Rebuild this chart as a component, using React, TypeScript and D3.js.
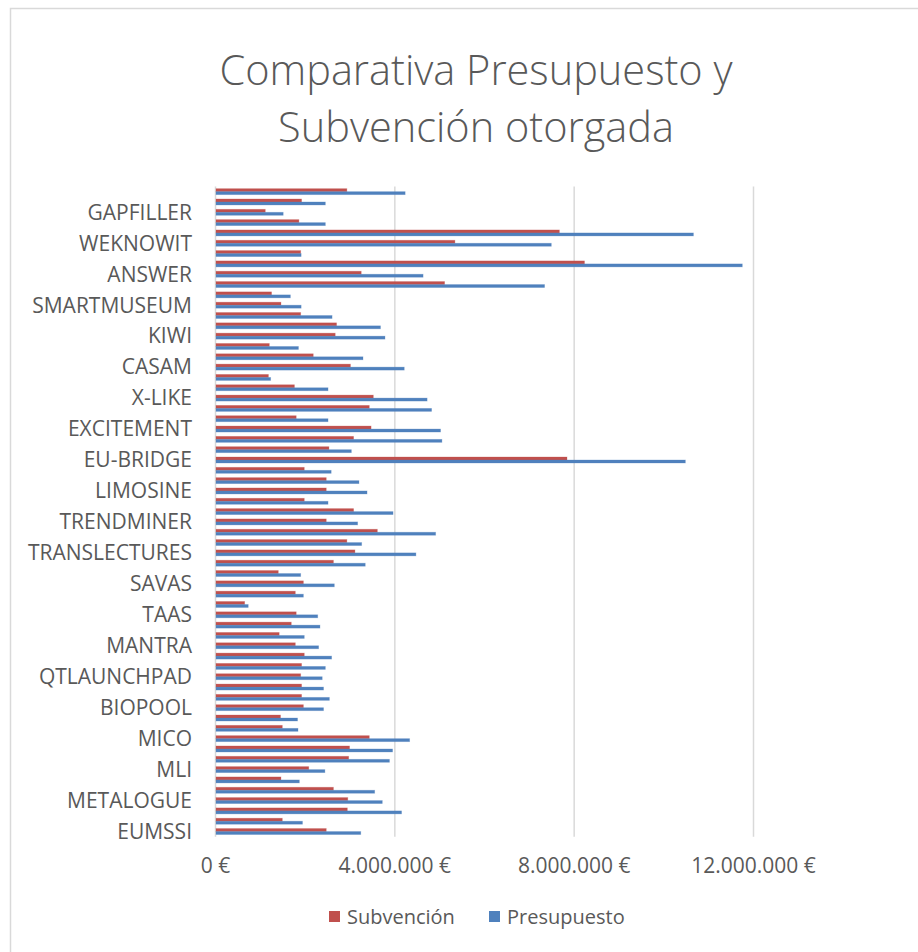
import { useEffect, useRef } from "react";
import * as d3 from "d3";

// Categories listed bottom -> top (Excel order). Only every third name is shown on the axis.
const projects = [
  "EUMSSI", "", "", "METALOGUE", "", "", "MLI", "", "", "MICO", "", "",
  "BIOPOOL", "", "", "QTLAUNCHPAD", "", "", "MANTRA", "", "", "TAAS", "", "",
  "SAVAS", "", "", "TRANSLECTURES", "", "", "TRENDMINER", "", "", "LIMOSINE", "", "",
  "EU-BRIDGE", "", "", "EXCITEMENT", "", "", "X-LIKE", "", "", "CASAM", "", "",
  "KIWI", "", "", "SMARTMUSEUM", "", "", "ANSWER", "", "", "WEKNOWIT", "", "",
  "GAPFILLER", "", "",
];

const subvencion = [
  2470000, 1490000, 2940000, 2950000, 2630000, 1460000, 2080000, 2970000, 2990000, 3430000,
  1490000, 1450000, 1960000, 1920000, 1920000, 1900000, 1920000, 1980000, 1780000, 1420000,
  1690000, 1800000, 650000, 1780000, 1960000, 1400000, 2630000, 3110000, 2930000, 3610000,
  2470000, 3080000, 1980000, 2470000, 2470000, 1980000, 7840000, 2530000, 3080000, 3470000,
  1800000, 3430000, 3520000, 1760000, 1180000, 3010000, 2180000, 1200000, 2670000, 2700000,
  1900000, 1460000, 1250000, 5110000, 3250000, 8230000, 1900000, 5340000, 7670000, 1860000,
  1110000, 1920000, 2930000,
];

const presupuesto = [
  3240000, 1940000, 4150000, 3720000, 3550000, 1870000, 2440000, 3880000, 3950000, 4330000,
  1840000, 1830000, 2410000, 2540000, 2410000, 2380000, 2450000, 2590000, 2300000, 1980000,
  2330000, 2280000, 730000, 1960000, 2650000, 1900000, 3340000, 4470000, 3260000, 4910000,
  3170000, 3960000, 2510000, 3380000, 3200000, 2580000, 10480000, 3030000, 5050000, 5020000,
  2510000, 4820000, 4720000, 2510000, 1230000, 4210000, 3290000, 1850000, 3780000, 3680000,
  2600000, 1910000, 1670000, 7340000, 4630000, 11750000, 1910000, 7490000, 10660000, 2450000,
  1510000, 2450000, 4230000,
];

const seriesNames = ["Subvención", "Presupuesto"];
const seriesColors = ["#C0504D", "#4F81BD"];
const xTicks = [0, 4000000, 8000000, 12000000];

const W = 918;
const H = 952;
const textColor = "#595959";
const gridColor = "#D9D9D9";
const font = "'Open Sans', 'Noto Sans', sans-serif";

export default function App() {
  const svgRef = useRef<SVGSVGElement>(null);

  useEffect(() => {
    if (!svgRef.current) return;
    const svg = d3.select(svgRef.current);
    svg.selectAll("*").remove();

    const plot = { left: 215.5, right: 753.5, top: 186.5, bottom: 836.7 };

    // chart frame (runs off the page on the right/bottom)
    svg.append("rect")
      .attr("x", 10.5).attr("y", 8.5)
      .attr("width", 960).attr("height", 1000)
      .attr("fill", "#fff")
      .attr("stroke", gridColor).attr("stroke-width", 1.5);

    // title, two lines
    const titleLines = ["Comparativa Presupuesto y", "Subvención otorgada"];
    svg.append("g")
      .selectAll("text")
      .data(titleLines)
      .enter()
      .append("text")
      .attr("x", 476)
      .attr("y", (_d, i) => 84.5 + i * 57)
      .attr("text-anchor", "middle")
      .attr("fill", textColor)
      .style("font-family", font)
      .style("font-weight", 300)
      .style("font-size", "41.5px")
      .text((d) => d);

    const x = d3.scaleLinear().domain([0, 12000000]).range([plot.left, plot.right]);

    const idx = projects.map((_, i) => i);
    const y0 = d3.scaleBand<number>()
      .domain(idx.slice().reverse())
      .range([plot.top, plot.bottom])
      .paddingInner(0.42)
      .paddingOuter(0.21);
    const y1 = d3.scaleBand<number>()
      .domain([0, 1])
      .range([0, y0.bandwidth()]);

    const locale = d3.formatLocale({
      decimal: ",",
      thousands: ".",
      grouping: [3],
      currency: ["", " €"],
    });
    const fmt = locale.format("$,.0f");

    // vertical gridlines
    svg.append("g")
      .selectAll("line")
      .data(xTicks.slice(1))
      .enter()
      .append("line")
      .attr("x1", (d) => x(d)).attr("x2", (d) => x(d))
      .attr("y1", plot.top).attr("y2", plot.bottom)
      .attr("stroke", gridColor).attr("stroke-width", 1.5);

    // category axis line
    svg.append("line")
      .attr("x1", plot.left).attr("x2", plot.left)
      .attr("y1", plot.top).attr("y2", plot.bottom)
      .attr("stroke", gridColor).attr("stroke-width", 1.5);

    // bars
    const groups = svg.append("g")
      .selectAll("g.proj")
      .data(idx)
      .enter()
      .append("g")
      .attr("class", "proj")
      .attr("transform", (i) => `translate(0,${y0(i)})`);

    groups.selectAll("rect")
      .data((i) => [subvencion[i], presupuesto[i]].map((v, s) => ({ s, v })))
      .enter()
      .append("rect")
      .attr("x", x(0) + 0.5)
      .attr("y", (d) => y1(d.s) || 0)
      .attr("width", (d) => x(d.v) - x(0) - 0.5)
      .attr("height", y1.bandwidth())
      .attr("fill", (d) => seriesColors[d.s])
      .attr("stroke", (d) => seriesColors[d.s])
      .attr("stroke-opacity", 0.35)
      .attr("stroke-width", 0.8);

    // category labels
    svg.append("g")
      .selectAll("text")
      .data(idx.filter((i) => projects[i] !== ""))
      .enter()
      .append("text")
      .attr("x", 192)
      .attr("y", (i) => (y0(i) || 0) + y0.bandwidth() / 2)
      .attr("dy", "0.35em")
      .attr("text-anchor", "end")
      .attr("fill", textColor)
      .style("font-family", font)
      .style("font-size", "21px")
      .text((i) => projects[i]);

    // value axis labels
    svg.append("g")
      .selectAll("text")
      .data(xTicks)
      .enter()
      .append("text")
      .attr("x", (d) => x(d))
      .attr("y", 873)
      .attr("text-anchor", "middle")
      .attr("fill", textColor)
      .style("font-family", font)
      .style("font-size", "21px")
      .text((d) => fmt(d));

    // legend
    const legend = svg.append("g");
    const legendItems = [
      { x: 329, tx: 347 },
      { x: 489, tx: 507 },
    ];
    legendItems.forEach((li, s) => {
      legend.append("rect")
        .attr("x", li.x).attr("y", 911)
        .attr("width", 11).attr("height", 11)
        .attr("fill", seriesColors[s]);
      legend.append("text")
        .attr("x", li.tx).attr("y", 924)
        .attr("fill", textColor)
        .style("font-family", font)
        .style("font-size", "20px")
        .text(seriesNames[s]);
    });
  }, []);

  return (
    <div style={{ position: "absolute", left: 0, top: 0 }}>
      <svg ref={svgRef} width={W} height={H} style={{ display: "block" }} />
    </div>
  );
}
